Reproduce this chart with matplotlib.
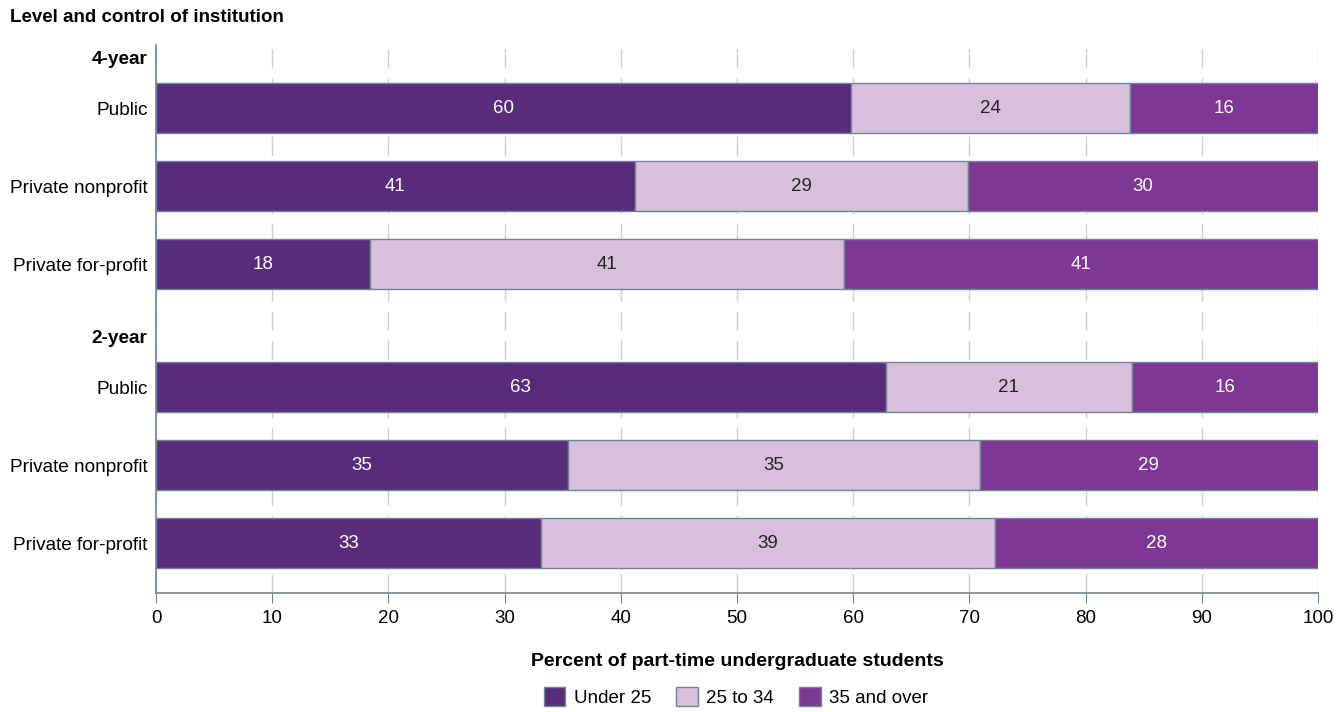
import matplotlib.pyplot as plt
from matplotlib.patches import Patch

plt.rcParams['font.family'] = ['Liberation Sans', 'DejaVu Sans']

# data (percent of part-time undergraduates, by age group)
rows = ["Public", "Private nonprofit", "Private for-profit",
        "Public", "Private nonprofit", "Private for-profit"]
groups = ["4-year", "2-year"]
under25 = [59.8, 41.2, 18.4, 62.8, 35.45, 33.1]
age25to34 = [24.0, 28.7, 40.8, 21.2, 35.45, 39.1]
age35plus = [16.2, 30.1, 40.8, 16.0, 29.1, 27.8]
series_names = ["Under 25", "25 to 34", "35 and over"]
colors = ["#592c7b", "#d8bfdb", "#7f3795"]
edge = "#6c8696"

# layout of the rows (bars one unit apart, headers squeezed in)
bar_y = [0, 1, 2, 3.577, 4.577, 5.577]
header_y = [-0.654, 2.923]

fig = plt.figure(figsize=(13.44, 7.12), dpi=100)
ax = fig.add_axes([156/1344, 1-593/712, (1318-156)/1344, (593-45)/712])

left = [0]*len(rows)
for vals, c in zip([under25, age25to34, age35plus], colors):
    ax.barh(bar_y, vals, left=left, height=0.64, color=c, edgecolor=edge,
            linewidth=1, zorder=3)
    for y, l, v in zip(bar_y, left, vals):
        txt_col = "#222222" if c == colors[1] else "white"
        ax.text(l + v/2, y, f"{round(v)}", ha="center", va="center",
                color=txt_col, fontsize=13.5, zorder=4)
    left = [a + b for a, b in zip(left, vals)]

ax.set_xlim(0, 100)
ax.set_ylim(6.218, -0.808)
ax.set_xticks(range(0, 101, 10))
ax.tick_params(axis="x", labelsize=13.5, length=7, color=edge, pad=5)

ax.set_yticks(bar_y + header_y)
ax.set_yticklabels(rows + groups)
for lab in ax.get_yticklabels()[len(rows):]:
    lab.set_fontweight("bold")
ax.tick_params(axis="y", labelsize=13.7, length=0, pad=6)

ax.grid(axis="x", color="#d0d0d0", linestyle=(0, (14, 7)), linewidth=1, zorder=0)
for s in ["top", "right"]:
    ax.spines[s].set_visible(False)
for s in ["left", "bottom"]:
    ax.spines[s].set_color(edge)
    ax.spines[s].set_linewidth(1.2)

fig.text(10/1344, 1-18/712, "Level and control of institution", fontsize=13.5,
         fontweight="bold", va="center", ha="left")
fig.text(737/1344, 1-662/712, "Percent of part-time undergraduate students",
         fontsize=14, fontweight="bold", ha="center", va="center")

handles = [Patch(facecolor=c, edgecolor=edge, label=n) for c, n in zip(colors, series_names)]
fig.legend(handles=handles, loc="center", bbox_to_anchor=(736/1344, 1-697/712),
           ncol=3, frameon=False, fontsize=13.5, handlelength=1.15, handleheight=1.15,
           handletextpad=0.45, columnspacing=1.35)

fig.savefig("out.png", dpi=100)
